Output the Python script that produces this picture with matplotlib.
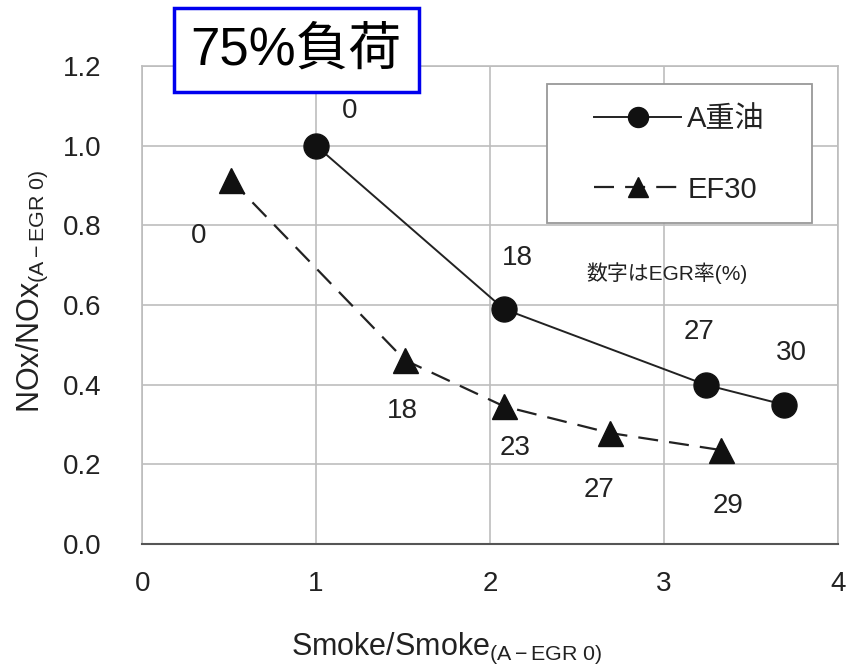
import matplotlib
matplotlib.use("Agg")
import matplotlib.pyplot as plt
from matplotlib.patches import Rectangle

plt.rcParams["font.family"] = ["Liberation Sans", "Noto Sans CJK JP", "DejaVu Sans"]
plt.rcParams["mathtext.fontset"] = "custom"
plt.rcParams["mathtext.rm"] = "Liberation Sans"
plt.rcParams["mathtext.it"] = "Liberation Sans"

# data
a_smoke = [1.0, 2.08, 3.24, 3.69]
a_nox = [1.0, 0.59, 0.40, 0.35]
a_egr = ["0", "18", "27", "30"]

ef_smoke = [0.51, 1.51, 2.08, 2.69, 3.33]
ef_nox = [0.914, 0.462, 0.346, 0.279, 0.236]
ef_egr = ["0", "18", "23", "27", "29"]

# label offsets in points (dx, dy) for each EGR value
a_offsets = [(24, 25), (10, 37), (-5, 38), (5, 37)]
ef_offsets = [(-23, -40), (-2, -37), (8, -30), (-8, -41), (5, -40)]

txt = "#222222"
grid_c = "#bdbdbd"
fs = 20

fig = plt.figure(figsize=(8.46, 6.71), dpi=100)
ax = fig.add_axes([0.168, 0.189, 0.8225, 0.7126])

ax.plot(a_smoke, a_nox, "-", color="#222222", lw=1.4, marker="o",
        markersize=18, markerfacecolor="#111111", markeredgecolor="#111111",
        label="A重油", zorder=3)
ax.plot(ef_smoke, ef_nox, color="#222222", lw=1.6, dashes=(9, 5), marker="^",
        markersize=18, markerfacecolor="#111111", markeredgecolor="#111111",
        label="EF30", zorder=3)

for x, y, s, (dx, dy) in zip(a_smoke, a_nox, a_egr, a_offsets):
    ax.annotate(s, (x, y), xytext=(dx, dy), textcoords="offset points",
                ha="center", va="center", fontsize=fs, color=txt)
for x, y, s, (dx, dy) in zip(ef_smoke, ef_nox, ef_egr, ef_offsets):
    ax.annotate(s, (x, y), xytext=(dx, dy), textcoords="offset points",
                ha="center", va="center", fontsize=fs, color=txt)

ax.set_xlim(0, 4)
ax.set_ylim(0, 1.2)
ax.set_xticks([0, 1, 2, 3, 4])
ax.set_yticks([0.0, 0.2, 0.4, 0.6, 0.8, 1.0, 1.2])
ax.set_yticklabels(["0.0", "0.2", "0.4", "0.6", "0.8", "1.0", "1.2"])
ax.grid(True, color=grid_c, lw=1.2)
ax.set_axisbelow(True)
for side in ["top", "right", "left"]:
    ax.spines[side].set_color(grid_c)
    ax.spines[side].set_linewidth(1.2)
ax.spines["bottom"].set_color("#555555")
ax.spines["bottom"].set_linewidth(1.5)
ax.tick_params(length=0, labelsize=fs, labelcolor=txt)
ax.tick_params(axis="x", pad=19)
ax.tick_params(axis="y", pad=29)

ax.set_xlabel(r"Smoke/Smoke$_{\mathrm{(A-EGR\ 0)}}$", fontsize=22, color=txt)
ax.xaxis.set_label_coords(0.438, -0.182)
ax.set_ylabel(r"NOx/NOx$_{\mathrm{(A-EGR\ 0)}}$", fontsize=22, color=txt)
ax.yaxis.set_label_coords(-0.132, 0.53)

ax.text(3.02, 0.68, "数字はEGR率(%)", fontsize=15, color=txt,
        ha="center", va="center")

# legend frame drawn separately so its box matches the reference
ax.add_patch(Rectangle((0.582, 0.6715), 0.3806, 0.2905, transform=ax.transAxes,
                       facecolor="white", edgecolor="#999999", lw=1.3, zorder=4))
leg = ax.legend(loc="center", bbox_to_anchor=(0.772, 0.815),
                borderaxespad=0, fontsize=21, handlelength=3.0,
                labelspacing=1.45, borderpad=0.2, handletextpad=0.2,
                frameon=False, labelcolor=txt, markerscale=0.8)
leg.set_zorder(5)

fig.text(0.35, 0.925, "75%負荷", fontsize=38, color="black",
         ha="center", va="center",
         bbox=dict(boxstyle="square,pad=0.32", facecolor="white",
                   edgecolor="#0000ee", linewidth=2.5))

fig.savefig("out.png", dpi=100)
